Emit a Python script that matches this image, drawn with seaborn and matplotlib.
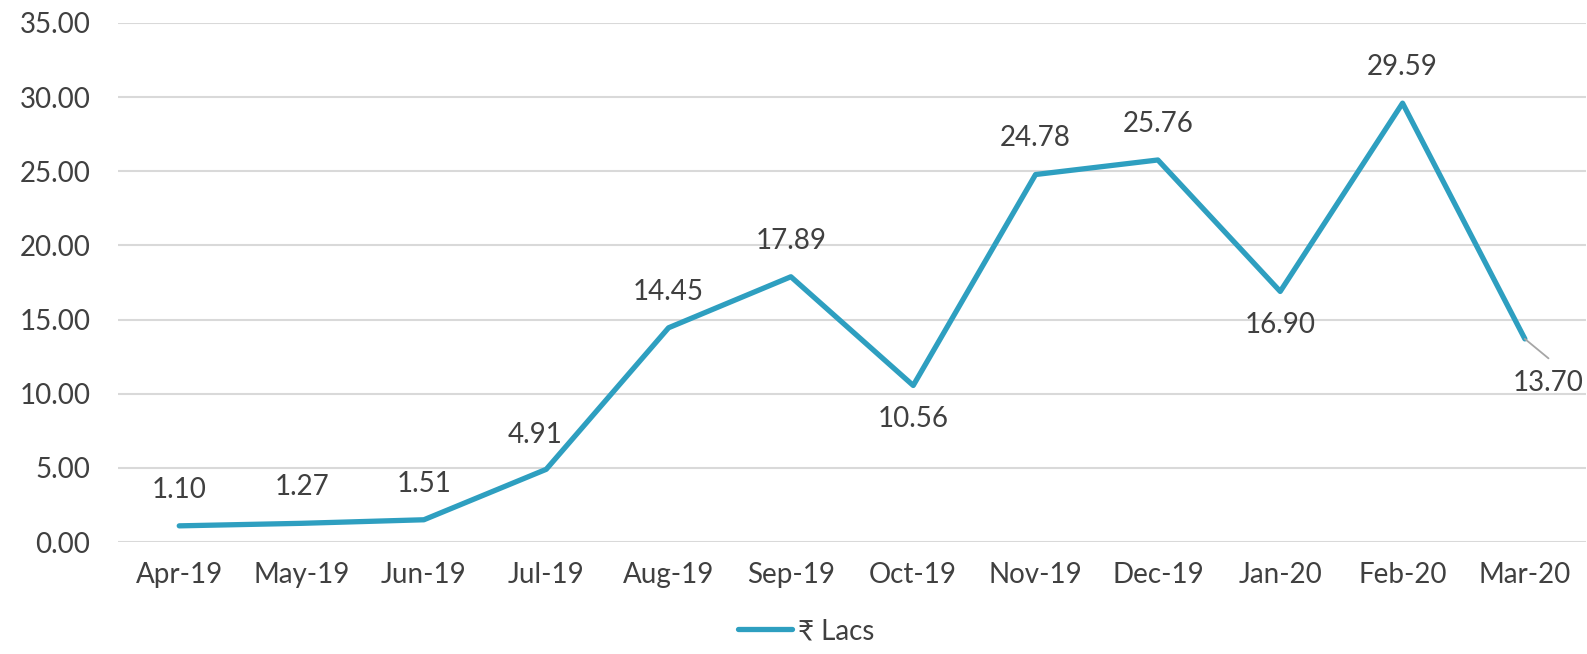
import pandas as pd
import matplotlib.pyplot as plt
import seaborn as sns
from matplotlib.ticker import FormatStrFormatter

months = ["Apr-19", "May-19", "Jun-19", "Jul-19", "Aug-19", "Sep-19",
          "Oct-19", "Nov-19", "Dec-19", "Jan-20", "Feb-20", "Mar-20"]
lacs = [1.10, 1.27, 1.51, 4.91, 14.45, 17.89, 10.56, 24.78, 25.76, 16.90, 29.59, 13.70]

df = pd.DataFrame({"month": months, "value": lacs, "series": "₹ Lacs"})

sns.set_style("white")
plt.rcParams["font.family"] = ["Lato", "DejaVu Sans"]

line_color = "#2E9FC0"
text_color = "#404040"

fig = plt.figure(figsize=(15.87, 6.54), dpi=100)
ax = fig.add_axes([0.0744, 0.171, 0.925, 0.794])

sns.lineplot(data=df, x="month", y="value", hue="series", palette=[line_color],
             linewidth=3.8, sort=False, ax=ax)
for l in ax.get_lines():
    l.set_solid_capstyle("round")

ax.set_ylim(0, 35)
ax.set_xlim(-0.5, 11.5)
ax.set_yticks(range(0, 36, 5))
ax.yaxis.set_major_formatter(FormatStrFormatter("%.2f"))
ax.grid(axis="y", color="#d9d9d9", linewidth=1.5)
ax.set_axisbelow(True)
for s in ax.spines.values():
    s.set_visible(False)
ax.tick_params(axis="both", length=0, labelsize=20, labelcolor=text_color, pad=14)
ax.tick_params(axis="y", pad=20)
ax.set_xlabel("")
ax.set_ylabel("")

# data labels (offsets in points)
offsets = {6: (0, -24), 9: (0, -24), 3: (-8, 25), 11: (17, -32)}
for i, v in enumerate(lacs):
    dx, dy = offsets.get(i, (0, 26))
    ax.annotate(f"{v:.2f}", (i, v), xytext=(dx, dy), textcoords="offset points",
                ha="center", va="center", fontsize=20, color=text_color)

# leader line for the last label
ax.annotate("", xy=(11, lacs[11]), xytext=(17, -14), textcoords="offset points",
            arrowprops=dict(arrowstyle="-", color="#a6a6a6", lw=1.3,
                            shrinkA=0, shrinkB=0))

handles, labels = ax.get_legend_handles_labels()
ax.get_legend().remove()
leg = fig.legend(handles, labels, loc="center", bbox_to_anchor=(0.508, 0.035),
                 frameon=False, fontsize=20, handlelength=1.95, handletextpad=0.2)
for t in leg.get_texts():
    t.set_color(text_color)

fig.savefig("out.png", dpi=100)
